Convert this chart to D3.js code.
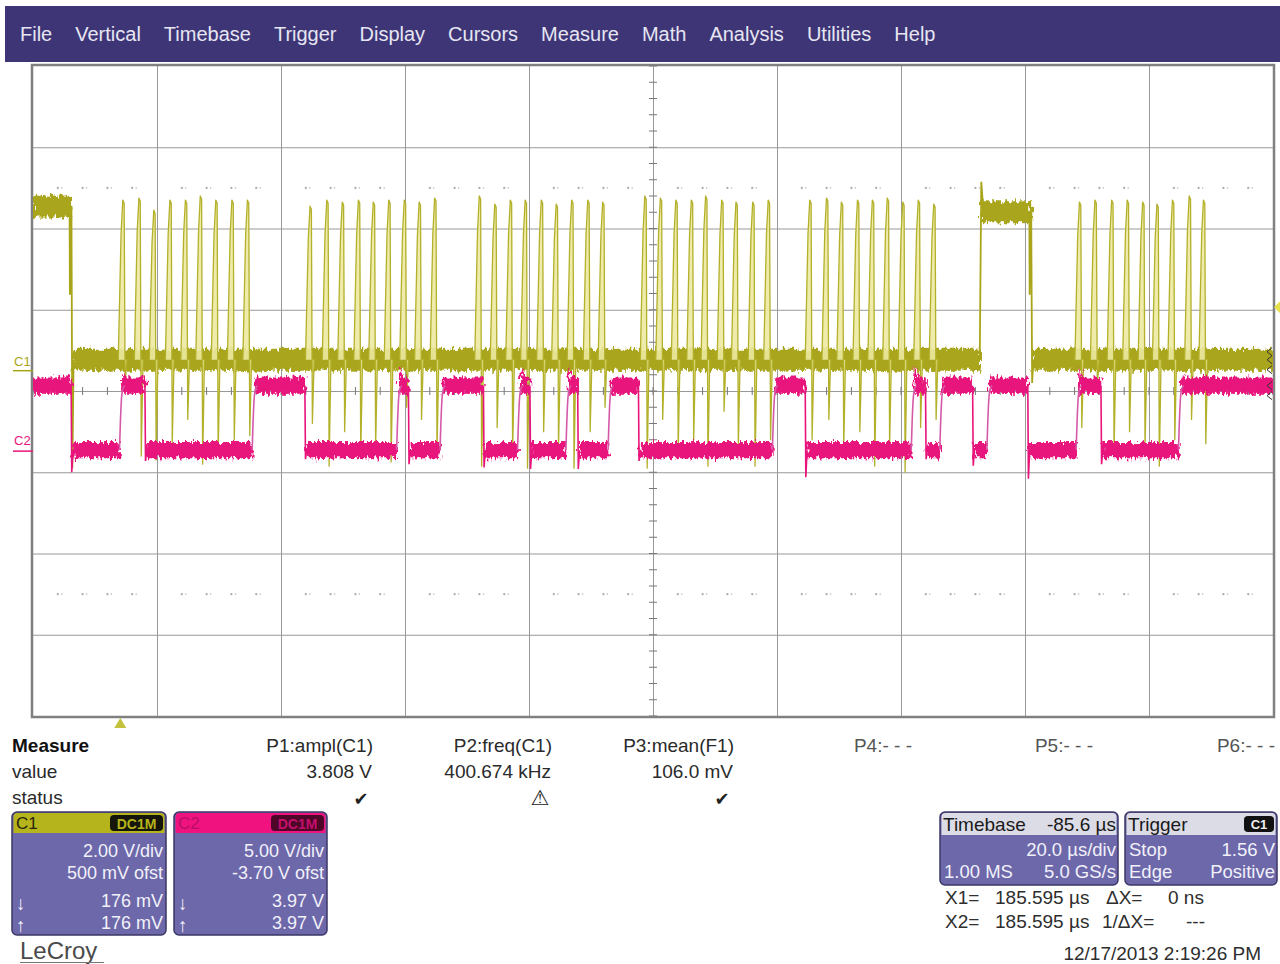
<!DOCTYPE html>
<html><head><meta charset="utf-8">
<script src="https://cdn.jsdelivr.net/npm/d3@7"></script>
<style>
html,body{margin:0;padding:0;background:#fff;}
svg{display:block;font-family:"Liberation Sans",Arial,sans-serif;}
</style></head><body>
<svg id="scope" width="1280" height="964"></svg>
<script>
// ---------------- data ----------------
const menuItems = ["File","Vertical","Timebase","Trigger","Display","Cursors","Measure","Math","Analysis","Utilities","Help"];

// horizontal: time in µs relative to the trigger point
const timeDomain = [-14.4, 185.6];
// vertical settings
const c1VoltsPerDiv = 2.0, c1Offset = 0.5;
const c2VoltsPerDiv = 5.0, c2Offset = -3.7;

// C1 (SCL) clock pulses: time of falling edge (µs), peak and undershoot (V)
const c1PulseTimes = [
  0.4, 3.0, 5.4, 8.0, 10.5, 12.9, 15.4, 18.0, 20.5,
  30.6, 33.3, 35.8, 38.4, 40.8, 43.3, 45.8, 48.2, 50.7,
  57.9, 60.4, 62.9, 65.3, 67.9, 70.3, 72.8, 75.4, 77.8,
  84.6, 87.1, 89.6, 92.1, 94.4, 97.0, 99.3, 102.0, 104.5,
  111.2, 113.9, 116.3, 118.9, 121.3, 123.7, 126.2, 128.7, 131.2,
  154.7, 157.2, 159.9, 162.4, 164.9, 167.2, 169.7, 172.4, 174.7
];
const c1PulsePeaks = [
  4.2, 4.25, 3.95, 4.2, 4.2, 4.3, 4.2, 4.2, 4.2,
  4.05, 4.2, 4.15, 4.2, 4.15, 4.2, 4.2, 4.15, 4.25,
  4.3, 4.1, 4.2, 4.2, 4.2, 4.1, 4.2, 4.2, 4.15,
  4.3, 4.25, 4.2, 4.2, 4.3, 4.2, 4.15, 4.15, 4.2,
  4.2, 4.25, 4.15, 4.2, 4.2, 4.25, 4.15, 4.2, 4.1,
  4.15, 4.2, 4.2, 4.2, 4.15, 4.1, 4.2, 4.3, 4.2
];
const c1PulseUnders = [
  -0.3, -2.1, -2.2, -1.8, -1.2, -2.3, -2.1, -1.7, -1.6,
  -1.3, -2.35, -1.5, -2.1, -1.9, -2.25, -0.9, -1.2, -2.0,
  -2.35, -1.4, -2.0, -2.4, -1.5, -1.9, -2.4, -1.5, -0.9,
  -2.4, -1.2, -2.0, -1.7, -2.35, -1.0, -1.9, -2.35, -1.7,
  -1.7, -1.2, -1.9, -1.5, -2.35, -1.9, -2.5, -1.4, -1.2,
  -1.4, -0.4, -2.0, -1.5, -1.9, -2.35, -1.7, -1.2, -1.8
];
const c1Base = 0.27;
const c1HighStarts = [-14.4, 138.5];
const c1HighEnds   = [-8.2, 146.6];
const c1HighLevels = [4.04, 3.9];
const c1FallDips   = [-2.4, -0.3];

// C2 (SDA) high intervals (µs), overshoot on rise and dip on fall (V)
const c2HighStarts = [-14.4, -0.4, 21.0, 44.3, 51.3, 63.8, 71.6, 78.4, 104.9, 127.3, 131.9, 139.5, 153.9, 170.4];
const c2HighEnds   = [-8.2, 3.7, 29.5, 46.2, 58.3, 65.8, 73.5, 83.3, 110.2, 129.6, 137.2, 146.1, 157.9, 185.6];
const c2RisePeaks  = [null, 5.0, 4.6, 5.3, 4.6, 5.3, 5.3, 4.6, 4.5, 5.3, 4.6, 4.5, 5.1, 4.8];
const c2FallDips   = [-1.3, -0.6, -0.5, -0.8, -1.0, -1.1, -1.1, -0.6, -1.6, -0.5, -0.9, -1.7, -0.8, null];
const c2Low = 0.06, c2High = 4.03;

// measurement readouts
const measNames  = ["P1:ampl(C1)", "P2:freq(C1)", "P3:mean(F1)", "P4:- - -", "P5:- - -", "P6:- - -"];
const measValues = ["3.808 V", "400.674 kHz", "106.0 mV", "", "", ""];
const measStatus = ["ok", "warn", "ok", "", "", ""];

const c1Rows = ["2.00 V/div", "500 mV ofst", "176 mV", "176 mV"];
const c2Rows = ["5.00 V/div", "-3.70 V ofst", "3.97 V", "3.97 V"];
const timebaseDelay = "-85.6 µs";
const timebaseRows = [["", "20.0 µs/div"], ["1.00 MS", "5.0 GS/s"]];
const triggerRows = [["Stop", "1.56 V"], ["Edge", "Positive"]];
const triggerLevel = 1.56;
const cursorRows = [["X1=", "185.595 µs", "ΔX=", "0 ns"], ["X2=", "185.595 µs", "1/ΔX=", "---"]];
const stamp = "12/17/2013 2:19:26 PM";

// ---------------- layout ----------------
const W = 1280, H = 964;
const plot = {x0: 33, x1: 1273, y0: 66, y1: 716};
const svg = d3.select("#scope");
const C1 = "#a9a51b", C1line = "#b3b02a", C1pale = "#ece9a2", C2 = "#e8147c", C2edge = "#d45aa8";

const x = d3.scaleLinear().domain(timeDomain).range([plot.x0, plot.x1]);
const c1c = -c1Offset, c2c = -c2Offset;
const y1 = d3.scaleLinear().domain([c1c - 4 * c1VoltsPerDiv, c1c + 4 * c1VoltsPerDiv]).range([plot.y1, plot.y0]);
const y2 = d3.scaleLinear().domain([c2c - 4 * c2VoltsPerDiv, c2c + 4 * c2VoltsPerDiv]).range([plot.y1, plot.y0]);
const gx = d3.scaleLinear().domain([0, 10]).range([plot.x0, plot.x1]);
const gy = d3.scaleLinear().domain([-4, 4]).range([plot.y1, plot.y0]);

const defs = svg.append("defs");
defs.append("clipPath").attr("id", "plotClip").append("rect")
  .attr("x", plot.x0).attr("y", plot.y0).attr("width", plot.x1 - plot.x0).attr("height", plot.y1 - plot.y0);
const f = defs.append("filter").attr("id", "grain").attr("filterUnits", "userSpaceOnUse")
  .attr("x", 0).attr("y", 0).attr("width", W).attr("height", H);
f.append("feTurbulence").attr("type", "fractalNoise").attr("baseFrequency", "0.4 0.15")
  .attr("numOctaves", 2).attr("seed", 7).attr("result", "n");
f.append("feDisplacementMap").attr("in", "SourceGraphic").attr("in2", "n").attr("scale", 11)
  .attr("xChannelSelector", "R").attr("yChannelSelector", "G");

// ---- menu bar ----
svg.append("rect").attr("x", 5).attr("y", 6).attr("width", W - 5).attr("height", 56).attr("fill", "#3e3577");
let mx = 20;
menuItems.forEach(m => {
  const t = svg.append("text").attr("x", mx).attr("y", 41).attr("font-size", 20).attr("fill", "#e6e6f2").text(m);
  mx += t.node().getComputedTextLength() + 23;
});

// ---- graticule ----
const grid = svg.append("g");
grid.append("g").attr("transform", `translate(0,${plot.y1})`)
  .call(d3.axisBottom(gx).tickValues(d3.range(1, 10)).tickSize(-(plot.y1 - plot.y0)).tickFormat(""));
grid.append("g").attr("transform", `translate(${plot.x0},0)`)
  .call(d3.axisLeft(gy).tickValues(d3.range(-3, 4)).tickSize(-(plot.x1 - plot.x0)).tickFormat(""));
grid.selectAll(".domain").remove();
grid.selectAll(".tick line").attr("stroke", "#999").attr("stroke-width", 1);

// center ticks
const cx = gx(5), cy = gy(0);
d3.range(-4, 4.01, 0.2).forEach(v => {
  grid.append("line").attr("x1", cx - 4).attr("x2", cx + 4).attr("y1", gy(v)).attr("y2", gy(v)).attr("stroke", "#777");
});
d3.range(0, 10.01, 0.2).forEach(v => {
  grid.append("line").attr("x1", gx(v)).attr("x2", gx(v)).attr("y1", cy - 4).attr("y2", cy + 4).attr("stroke", "#777");
});
// dotted rows
[2.5, -2.5].forEach(r => {
  d3.range(0.2, 10, 0.2).forEach(v => {
    if (Math.abs(v - Math.round(v)) < 1e-6) return;
    grid.append("circle").attr("cx", gx(v)).attr("cy", gy(r)).attr("r", 1.1).attr("fill", "#a8a8a8");
    grid.append("circle").attr("cx", gx(v) + 4).attr("cy", gy(r)).attr("r", 0.8).attr("fill", "#c4c4c4");
  });
});
svg.append("rect").attr("x", plot.x0 - 1).attr("y", plot.y0 - 1).attr("width", plot.x1 - plot.x0 + 2)
  .attr("height", plot.y1 - plot.y0 + 2).attr("fill", "none").attr("stroke", "#808080").attr("stroke-width", 2.5);

// ---- traces ----
const traces = svg.append("g").attr("clip-path", "url(#plotClip)");
const line1 = d3.line().x(d => x(d[0])).y(d => y1(d[1]));
const line2 = d3.line().x(d => x(d[0])).y(d => y2(d[1]));

// C1 noise bands
const c1Half = 0.27;
const c1Bands = traces.append("g").attr("filter", "url(#grain)");
c1HighStarts.forEach((s, i) => {
  c1Bands.append("rect").attr("x", x(s)).attr("width", x(c1HighEnds[i]) - x(s))
    .attr("y", y1(c1HighLevels[i] + c1Half)).attr("height", y1(c1HighLevels[i] - c1Half) - y1(c1HighLevels[i] + c1Half))
    .attr("fill", C1);
});
const c1Lows = [];
c1HighEnds.forEach((e, i) => c1Lows.push([e + 0.2, i + 1 < c1HighStarts.length ? c1HighStarts[i + 1] : timeDomain[1] + 2]));
c1Lows.forEach(([a, b]) => {
  c1Bands.append("rect").attr("x", x(a)).attr("width", x(b) - x(a))
    .attr("y", y1(c1Base + c1Half)).attr("height", y1(c1Base - c1Half) - y1(c1Base + c1Half)).attr("fill", C1);
});

// C1 level edges
const c1Edges = traces.append("g").attr("fill", "none").attr("stroke", C1).attr("stroke-width", 1.8);
c1HighStarts.forEach((s, i) => {
  if (s > timeDomain[0]) {
    c1Edges.append("path").attr("d", line1([[s - 0.2, c1Base], [s + 0.05, 4.65], [s + 0.4, c1HighLevels[i]]]));
  }
  const e = c1HighEnds[i];
  c1Edges.append("path").attr("d", line1([[e - 0.3, c1HighLevels[i]], [e - 0.25, 1.87], [e - 0.1, c1HighLevels[i]], [e, c1HighLevels[i]], [e + 0.15, c1FallDips[i]], [e + 0.35, c1Base]]));
});

// C1 clock pulses
const pulses = traces.append("g");
c1PulseTimes.forEach((t, i) => {
  const pk = c1PulsePeaks[i], un = c1PulseUnders[i];
  pulses.append("path")
    .attr("d", line1([[t - 1.05, c1Base], [t - 0.6, pk * 0.8], [t - 0.32, pk], [t - 0.1, pk - 0.08], [t + 0.06, un], [t + 0.35, c1Base]]))
    .attr("fill", C1pale).attr("fill-opacity", 0.9).attr("stroke", C1line).attr("stroke-width", 1.3)
    .attr("stroke-linejoin", "round");
});

// C2 noise bands
const c2Half = 0.5;
const c2Bands = traces.append("g").attr("filter", "url(#grain)").attr("fill", C2);
c2HighStarts.forEach((s, i) => {
  const e = c2HighEnds[i];
  const a = s > timeDomain[0] ? s + 0.4 : s - 2;
  const b = i === c2HighStarts.length - 1 ? e + 2 : e;
  c2Bands.append("rect").attr("x", x(a)).attr("width", x(b) - x(a))
    .attr("y", y2(c2High + c2Half)).attr("height", y2(c2High - c2Half) - y2(c2High + c2Half));
  if (c2RisePeaks[i] != null) {
    c2Bands.append("path").attr("d", line2([[s + 0.3, c2High], [s + 0.55, c2RisePeaks[i]], [s + 1.3, c2High]]));
  }
  if (i + 1 < c2HighStarts.length) {
    const n = c2HighStarts[i + 1];
    c2Bands.append("rect").attr("x", x(e + 0.15)).attr("width", x(n) - x(e + 0.15))
      .attr("y", y2(c2Low + c2Half)).attr("height", y2(c2Low - c2Half) - y2(c2Low + c2Half));
  }
});
const c2Edges = traces.append("g").attr("fill", "none").attr("stroke", C2edge).attr("stroke-width", 1.6);
const rise = d3.line().x(d => x(d[0])).y(d => y2(d[1])).curve(d3.curveMonotoneX);
c2HighStarts.forEach((s, i) => {
  if (s > timeDomain[0]) {
    c2Edges.append("path").attr("d", rise([[s - 0.05, c2Low], [s + 0.08, 1.6], [s + 0.25, 3.1], [s + 0.5, 3.85], [s + 0.8, c2High]]));
  }
  if (c2FallDips[i] != null) {
    const e = c2HighEnds[i];
    c2Edges.append("path").attr("d", line2([[e - 0.05, c2High], [e + 0.05, c2FallDips[i]], [e + 0.25, c2Low]]))
      .attr("stroke", C2);
  }
});

// ---- side markers ----
svg.append("text").attr("x", 14).attr("y", y1(0) - 5).attr("font-size", 13).attr("fill", C1).text("C1");
svg.append("line").attr("x1", 13).attr("x2", plot.x0).attr("y1", y1(0)).attr("y2", y1(0)).attr("stroke", C1).attr("stroke-width", 1.5);
svg.append("text").attr("x", 14).attr("y", y2(0) - 6).attr("font-size", 13).attr("fill", C2).text("C2");
svg.append("line").attr("x1", 13).attr("x2", plot.x0).attr("y1", y2(0)).attr("y2", y2(0)).attr("stroke", C2).attr("stroke-width", 1.5);
// trigger level (right) and trigger position (bottom)
const ty = y1(triggerLevel);
svg.append("path").attr("d", `M${W},${ty - 6}L${plot.x1 + 1},${ty}L${W},${ty + 6}Z`).attr("fill", "#e6e04a");
const tx = x(0) - 2;
svg.append("path").attr("d", `M${tx - 6},${plot.y1 + 12}L${tx},${plot.y1 + 2}L${tx + 6},${plot.y1 + 12}Z`).attr("fill", "#c4c23c");
// trace end markers on the right edge
[y1(c1Base) - 8, y1(c1Base), y1(c1Base) + 10, y2(c2High), y2(c2High) + 10].forEach(v => {
  svg.append("path").attr("d", `M${plot.x1 - 1},${v - 4}L${plot.x1 - 6},${v}L${plot.x1 - 1},${v + 4}`)
    .attr("fill", "none").attr("stroke", "#333").attr("stroke-width", 1);
});

// ---- measurement table ----
const tcol = "#2a2a2a";
svg.append("text").attr("x", 12).attr("y", 752).attr("font-size", 19).attr("font-weight", "bold").attr("fill", "#111").text("Measure");
svg.append("text").attr("x", 12).attr("y", 778).attr("font-size", 19).attr("fill", tcol).text("value");
svg.append("text").attr("x", 12).attr("y", 804).attr("font-size", 19).attr("fill", tcol).text("status");
const pRight = [373, 552, 734, 912, 1093, 1275];
measNames.forEach((n, i) => {
  svg.append("text").attr("x", pRight[i]).attr("y", 752).attr("text-anchor", "end").attr("font-size", 19)
    .attr("fill", i < 3 ? tcol : "#555").text(n);
  if (measValues[i]) svg.append("text").attr("x", pRight[i] - 1).attr("y", 778).attr("text-anchor", "end")
    .attr("font-size", 19).attr("fill", tcol).text(measValues[i]);
  if (measStatus[i]) svg.append("text").attr("x", pRight[i] - 12).attr("y", 805).attr("text-anchor", "middle")
    .attr("font-family", "DejaVu Sans").attr("font-size", measStatus[i] === "ok" ? 18 : 21)
    .attr("fill", "#222")
    .text(measStatus[i] === "ok" ? "✔" : "⚠");
});

// ---- channel boxes ----
function chanBox(x0, w, head, label, labelCol, cplBg, cplCol, rows) {
  const g = svg.append("g");
  g.append("rect").attr("x", x0).attr("y", 812).attr("width", w).attr("height", 123).attr("rx", 5)
    .attr("fill", "#6d68a9").attr("stroke", "#3b3767").attr("stroke-width", 1.5);
  g.append("path").attr("d", `M${x0 + 1.5},833V817a4,4 0 0 1 4,-4H${x0 + w - 5.5}a4,4 0 0 1 4,4V833Z`).attr("fill", head);
  g.append("text").attr("x", x0 + 4).attr("y", 829).attr("font-size", 17).attr("fill", labelCol).text(label);
  g.append("rect").attr("x", x0 + w - 56).attr("y", 815).attr("width", 53).attr("height", 16).attr("rx", 4).attr("fill", cplBg);
  g.append("text").attr("x", x0 + w - 29.5).attr("y", 828.5).attr("text-anchor", "middle").attr("font-size", 14)
    .attr("font-weight", "bold").attr("fill", cplCol).text("DC1M");
  const by = [857, 879, 907, 929];
  rows.forEach((r, i) => g.append("text").attr("x", x0 + w - 3).attr("y", by[i]).attr("text-anchor", "end")
    .attr("font-size", 18).attr("fill", "#f1f1fa").text(r));
  g.append("text").attr("x", x0 + 4).attr("y", 910).attr("font-size", 19).attr("fill", "#f1f1fa").text("↓");
  g.append("text").attr("x", x0 + 4).attr("y", 932).attr("font-size", 19).attr("fill", "#f1f1fa").text("↑");
}
chanBox(12, 154, "#b6b41c", "C1", "#26260a", "#15150a", "#b6b41c", c1Rows);
chanBox(174, 153, "#f0127f", "C2", "#b80f66", "#4e0628", "#c40f6c", c2Rows);

// ---- timebase / trigger boxes ----
function infoBox(x0, w, title, rightHead, rows, headChip) {
  const g = svg.append("g");
  g.append("rect").attr("x", x0).attr("y", 812).attr("width", w).attr("height", 73).attr("rx", 5)
    .attr("fill", "#6d68a9").attr("stroke", "#3b3767").attr("stroke-width", 1.5);
  g.append("path").attr("d", `M${x0 + 1.5},835V817a4,4 0 0 1 4,-4H${x0 + w - 5.5}a4,4 0 0 1 4,4V835Z`).attr("fill", "#dcdce6");
  g.append("text").attr("x", x0 + 3).attr("y", 831).attr("font-size", 19).attr("fill", "#1a1a1a").text(title);
  if (headChip) {
    g.append("rect").attr("x", x0 + w - 33).attr("y", 816).attr("width", 30).attr("height", 16).attr("rx", 4).attr("fill", "#111");
    g.append("text").attr("x", x0 + w - 18).attr("y", 829).attr("text-anchor", "middle").attr("font-size", 13)
      .attr("font-weight", "bold").attr("fill", "#f0f0f0").text(rightHead);
  } else {
    g.append("text").attr("x", x0 + w - 2).attr("y", 831).attr("text-anchor", "end").attr("font-size", 19)
      .attr("fill", "#1a1a1a").text(rightHead);
  }
  const by = [856, 878];
  rows.forEach((r, i) => {
    if (r[0]) g.append("text").attr("x", x0 + 4).attr("y", by[i]).attr("font-size", 18.5).attr("fill", "#f1f1fa").text(r[0]);
    g.append("text").attr("x", x0 + w - 2).attr("y", by[i]).attr("text-anchor", "end").attr("font-size", 18.5)
      .attr("fill", "#f1f1fa").text(r[1]);
  });
}
infoBox(940, 178, "Timebase", timebaseDelay, timebaseRows, false);
infoBox(1125, 152, "Trigger", "C1", triggerRows, true);

// cursor readouts
const cxs = [945, 995, 1106, 1168];
cursorRows.forEach((r, i) => {
  r.forEach((s, j) => {
    let xx = cxs[j];
    if (j === 2 && s.length > 3) xx = 1102;
    if (j === 3 && s === "---") xx = 1186;
    svg.append("text").attr("x", xx).attr("y", 904 + i * 24).attr("font-size", 19).attr("fill", "#2e2e2e").text(s);
  });
});
svg.append("text").attr("x", 1261).attr("y", 960).attr("text-anchor", "end").attr("font-size", 19).attr("fill", "#2e2e2e").text(stamp);

// brand
svg.append("text").attr("x", 20).attr("y", 959).attr("font-size", 24).attr("fill", "#4a4a4a").text("LeCroy");
svg.append("line").attr("x1", 20).attr("x2", 104).attr("y1", 962.5).attr("y2", 962.5).attr("stroke", "#777").attr("stroke-width", 1);
</script>
</body></html>
